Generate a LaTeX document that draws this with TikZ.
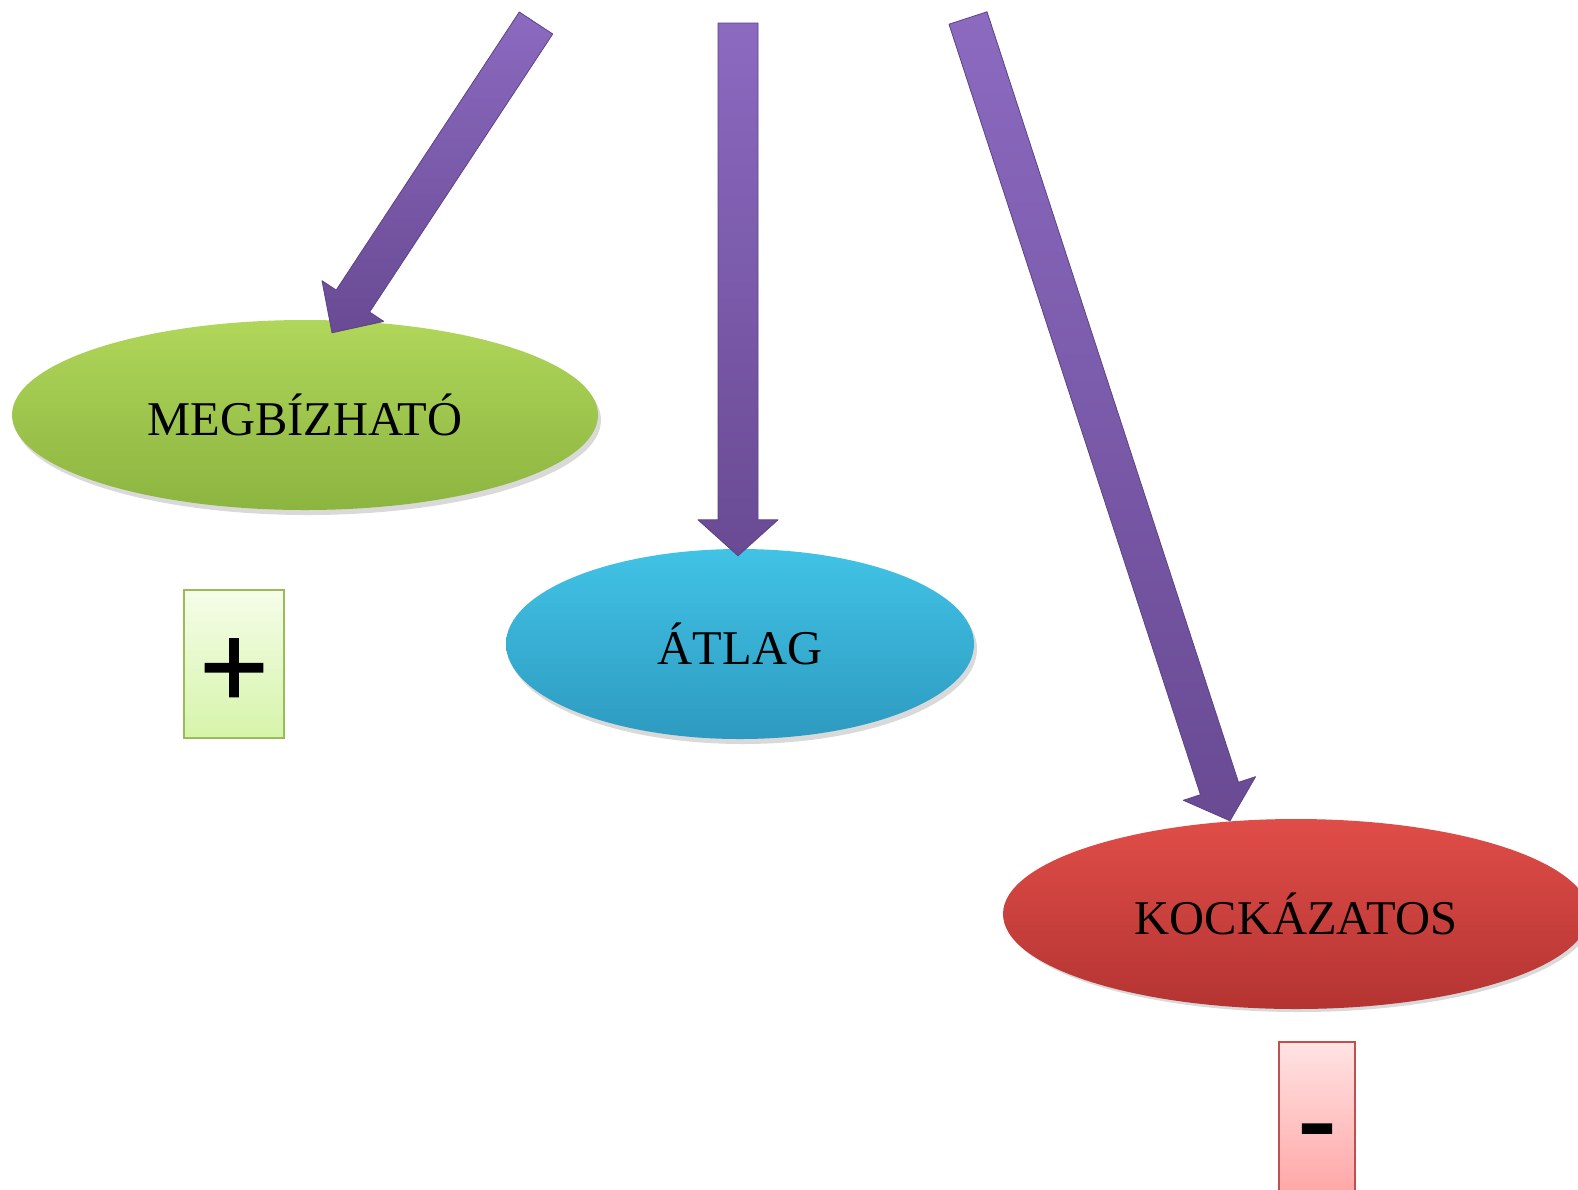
\documentclass[tikz,border=0pt]{standalone}
\usepackage{fontspec}
\setmainfont{Liberation Serif}
\newfontfamily\signfont[FakeBold=1.2]{Liberation Sans}
\usetikzlibrary{calc,shapes.geometric}
\definecolor{arrtop}{HTML}{8B6AC0}
\definecolor{arrbot}{HTML}{694A93}
\definecolor{arredge}{HTML}{5C4382}
\definecolor{grntop}{HTML}{B0D65A}
\definecolor{grnbot}{HTML}{8CB540}
\definecolor{blutop}{HTML}{41C3E6}
\definecolor{blubot}{HTML}{2E9AC0}
\definecolor{redtop}{HTML}{E04D48}
\definecolor{redbot}{HTML}{B43432}
\definecolor{gboxtop}{HTML}{F5FDE9}
\definecolor{gboxbot}{HTML}{D6F4AA}
\definecolor{gboxedge}{HTML}{9BBB59}
\definecolor{rboxtop}{HTML}{FFE3E3}
\definecolor{rboxbot}{HTML}{FFA3A3}
\definecolor{rboxedge}{HTML}{C0504D}
\tikzset{
  ellnode/.style={ellipse, minimum width=586pt, minimum height=190pt, inner sep=0pt,
    font=\fontsize{48.5}{52}\selectfont, text=black},
  ellshadow/.style={ellipse, minimum width=586pt, minimum height=190pt, inner sep=0pt,
    fill=black, opacity=0.15},
  signbox/.style={rectangle, inner sep=0pt, line width=2.5pt},
  signtext/.style={font=\signfont\fontsize{118}{118}\selectfont, inner sep=0pt, anchor=base},
  bigarrow/.style={top color=arrtop, bottom color=arrbot, draw=arredge, line width=0.8pt, line join=round}
}
\newcommand{\fatarrow}[5]{% tail, tip, shaft half, head half, head length
  \path[bigarrow]
    ($(#1)!#3!90:(#2)$) --
    ($($(#2)!#5!(#1)$)!#3!90:(#2)$) --
    ($($(#2)!#5!(#1)$)!#4!90:(#2)$) --
    (#2) --
    ($($(#2)!#5!(#1)$)!#4!-90:(#2)$) --
    ($($(#2)!#5!(#1)$)!#3!-90:(#2)$) --
    ($(#1)!#3!-90:(#2)$) -- cycle;
}
\begin{document}
\begin{tikzpicture}[x=1pt,y=-1pt]
\useasboundingbox (0,0) rectangle (1578,1189);
\clip (0,0) rectangle (1578,1189);
\fill[white] (0,0) rectangle (1578,1189);
% shadows
\node[ellshadow] (megs) at (308,420) {};
\node[ellshadow, minimum width=468pt] (atls) at (743,649) {};
\node[ellshadow] (kocs) at (1299,917) {};
% ellipses
\node[ellnode, top color=grntop, bottom color=grnbot] (meg) at (305,415) {MEGBÍZHATÓ};
\node[ellnode, minimum width=468pt, top color=blutop, bottom color=blubot] (atl) at (740,644) {ÁTLAG};
\node[ellnode, top color=redtop, bottom color=redbot] (koc) at (1296,914) {KOCKÁZATOS};
% arrows
\coordinate (t1) at (536,23);
\coordinate (p1) at ($(meg.north)+(27,13)$);
\coordinate (t2) at (738,23);
\coordinate (p2) at ($(atl.north)+(-2,7)$);
\coordinate (t3) at (968,18);
\coordinate (p3) at ($(koc.north)+(-66,2)$);
\fatarrow{t1}{p1}{20pt}{37pt}{38pt}
\fatarrow{t2}{p2}{20pt}{40pt}{36pt}
\fatarrow{t3}{p3}{20pt}{38pt}{34pt}
% sign boxes
\node[signbox, draw=gboxedge, top color=gboxtop, bottom color=gboxbot,
  minimum width=100pt, minimum height=148pt] (plusbox) at (234,664) {};
\node[signtext] (plus) at ($(plusbox.center)+(0,43)$) {+};
\node[signbox, draw=rboxedge, top color=rboxtop, bottom color=rboxbot,
  minimum width=76pt, minimum height=160pt] (minusbox) at (1317,1122) {};
\node[signtext] (minus) at (1317,1160) {-};
\end{tikzpicture}
\end{document}
